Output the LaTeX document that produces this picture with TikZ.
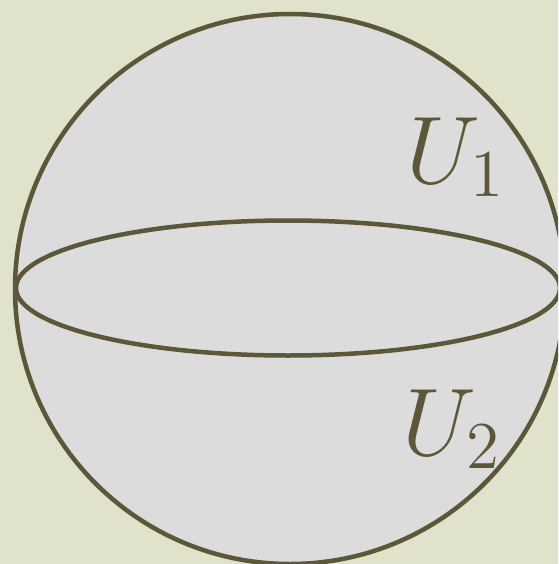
\documentclass[tikz,border=0pt]{standalone}
\usetikzlibrary{shapes.geometric}
\definecolor{bg}{HTML}{E0E2CC}
\definecolor{ink}{HTML}{5C5738}
\definecolor{sph}{HTML}{DCDCDC}
\font\bigmi=cmmi12 at 96pt
\font\subrm=cmr12 at 67pt
\newcommand{\Ulbl}[1]{{\bigmi U}\raisebox{-13pt}{\subrm #1}}
\begin{document}
\begin{tikzpicture}[x=1pt,y=-1pt,
  outline/.style={draw=ink,line width=4.5pt},
  lbl/.style={text=ink,inner sep=0pt,anchor=base west}]
\fill[bg] (0,0) rectangle (558,564);
\useasboundingbox (0,0) rectangle (558,564);
\begin{scope}
\clip (0,0) rectangle (558,564);
\node[circle,outline,fill=sph,minimum size=550pt,inner sep=0pt] (sphere) at (290,289) {};
\node[ellipse,outline,minimum width=544pt,minimum height=135pt,inner sep=0pt] (equator) at (288,288) {};
\end{scope}
\node[lbl] (u1) at (406,183) {\Ulbl{1}};
\node[lbl] (u2) at (402,455) {\Ulbl{2}};
\end{tikzpicture}
\end{document}
